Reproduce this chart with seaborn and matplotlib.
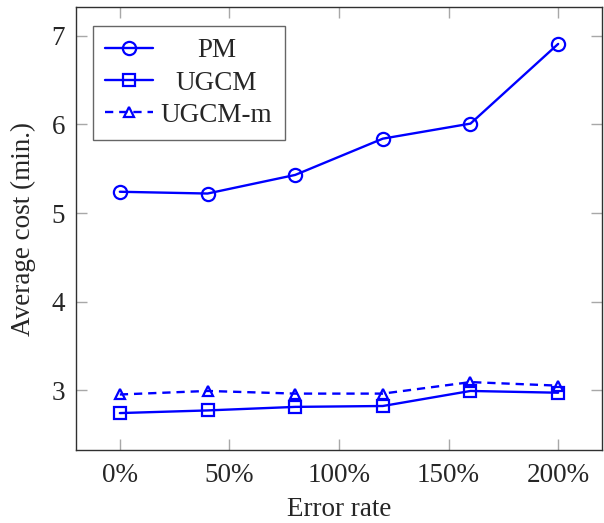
import numpy as np
import matplotlib
matplotlib.use('Agg')
import matplotlib.pyplot as plt
import seaborn as sns
import pandas as pd

error_rate = [0, 40, 80, 120, 160, 200]
pm = [5.24, 5.22, 5.43, 5.84, 6.01, 6.91]
ugcm = [2.74, 2.77, 2.81, 2.82, 2.99, 2.97]
ugcm_m = [2.95, 2.99, 2.96, 2.96, 3.09, 3.05]
xticks = [0, 50, 100, 150, 200]
xtick_labels = ['0%', '50%', '100%', '150%', '200%']
yticks = [3, 4, 5, 6, 7]

sns.set_style('ticks')
plt.rcParams['font.family'] = ['Liberation Serif', 'DejaVu Serif']

fig = plt.figure(figsize=(6.04, 5.23), dpi=100)
ax = fig.add_axes([76/604, 1 - 450/523, (602 - 76)/604, (450 - 7)/523])

blue = '#0000ff'
fs = 19.5
sns.lineplot(x=error_rate, y=pm, ax=ax, color=blue, marker='o', markersize=9.5,
             markerfacecolor='none', markeredgecolor=blue, markeredgewidth=1.6,
             linewidth=1.7, label='PM')
sns.lineplot(x=error_rate, y=ugcm, ax=ax, color=blue, marker='s', markersize=9,
             markerfacecolor='none', markeredgecolor=blue, markeredgewidth=1.6,
             linewidth=1.7, label='UGCM')
sns.lineplot(x=error_rate, y=ugcm_m, ax=ax, color=blue, marker='^', markersize=7.5,
             markerfacecolor='none', markeredgecolor=blue, markeredgewidth=1.6,
             linewidth=1.7, linestyle=(0, (3.5, 2.5)), label='UGCM-m')

# pgfplots style: enlarge limits by 10%
allv = pm + ugcm + ugcm_m
ylo, yhi = min(allv), max(allv)
pad = 0.1 * (yhi - ylo)
ax.set_ylim(ylo - pad, yhi + pad)
ax.set_xlim(-20, 220)

ax.set_xticks(xticks)
ax.set_xticklabels(xtick_labels)
ax.set_yticks(yticks)
ax.tick_params(direction='in', length=8, width=1, color='#a8a8a8',
               top=True, right=True, labelsize=fs)
ax.tick_params(axis='x', pad=9)
ax.tick_params(axis='y', pad=8)
for s in ax.spines.values():
    s.set_visible(True)
    s.set_color('#303030')
    s.set_linewidth(1)

ax.set_xlabel('Error rate', fontsize=fs, labelpad=7)
ax.set_ylabel('Average cost (min.)', fontsize=fs, labelpad=11)

leg = ax.legend(loc='upper left', bbox_to_anchor=((93 - 76)/526, (450 - 26)/443),
                borderaxespad=0, fontsize=fs, frameon=True, fancybox=False,
                edgecolor='#404040', handlelength=1.75, borderpad=0.45,
                labelspacing=0.27, handletextpad=0.3)
leg.get_frame().set_linewidth(1)

# centre the legend labels like the original
fig.canvas.draw()
r = fig.canvas.get_renderer()
texts = leg.get_texts()
widths = [t.get_window_extent(r).width for t in texts]
wmax = max(widths)
for t, w in zip(texts, widths):
    t.set_position(((wmax - w) / 2, 0))

fig.savefig('out.png', dpi=100)
